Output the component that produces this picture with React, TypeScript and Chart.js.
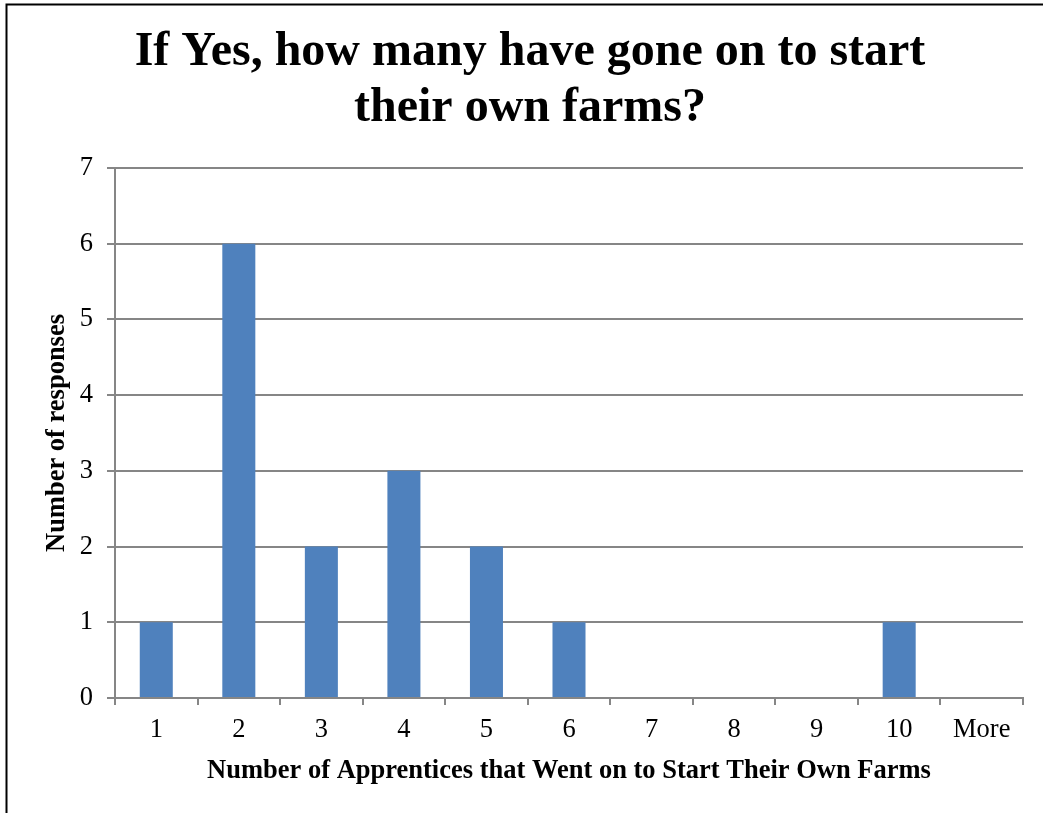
import React, { useEffect, useRef } from "react";
import { Chart, registerables } from "chart.js";

Chart.register(...registerables);

const categories = ["1", "2", "3", "4", "5", "6", "7", "8", "9", "10", "More"];
const responses = [1, 6, 2, 3, 2, 1, 0, 0, 0, 1, 0];
const titleLines = ["If Yes, how many have gone on to start", "their own farms?"];
const xTitle = "Number of Apprentices that Went on to Start Their Own Farms";
const yTitle = "Number of responses";

const W = 1043;
const H = 813;

const decorPlugin = {
  id: "decor",
  beforeDraw(chart: any) {
    const ctx = chart.ctx;
    ctx.save();
    ctx.fillStyle = "#ffffff";
    ctx.fillRect(0, 0, W, H);
    ctx.strokeStyle = "#000000";
    ctx.lineWidth = 2;
    ctx.beginPath();
    ctx.moveTo(6.5, H + 2);
    ctx.lineTo(6.5, 4.5);
    ctx.lineTo(W + 2, 4.5);
    ctx.stroke();
    ctx.restore();
  },
  afterDraw(chart: any) {
    const ctx = chart.ctx;
    const area = chart.chartArea;
    ctx.save();
    ctx.fillStyle = "#000000";
    ctx.textAlign = "center";
    ctx.textBaseline = "middle";
    ctx.font = "bold 48px 'Liberation Serif', 'Times New Roman', serif";
    ctx.fillText(titleLines[0], 530, 53);
    ctx.fillText(titleLines[1], 530, 109);
    ctx.font = "bold 26.5px 'Liberation Serif', 'Times New Roman', serif";
    ctx.fillText(xTitle, (area.left + area.right) / 2, 771);
    ctx.translate(57, (area.top + area.bottom) / 2);
    ctx.rotate(-Math.PI / 2);
    ctx.fillText(yTitle, 0, 0);
    ctx.restore();
  },
};

export default function App() {
  const ref = useRef<HTMLCanvasElement | null>(null);
  useEffect(() => {
    if (!ref.current) return;
    const tickFont = { family: "'Liberation Serif', 'Times New Roman', serif", size: 26.5 };
    const chart = new Chart(ref.current, {
      type: "bar",
      data: {
        labels: categories,
        datasets: [
          {
            data: responses,
            backgroundColor: "#4F81BD",
            borderWidth: 0,
            barPercentage: 0.4,
            categoryPercentage: 1,
          },
        ],
      },
      options: {
        animation: false,
        responsive: false,
        maintainAspectRatio: false,
        layout: { padding: { top: 168, right: 20, left: 0, bottom: 0 } },
        plugins: {
          legend: { display: false },
          title: { display: false },
          tooltip: { enabled: false },
        },
        scales: {
          x: {
            offset: true,
            grid: {
              offset: true,
              drawOnChartArea: false,
              drawTicks: true,
              tickLength: 7,
              color: "#868686",
              lineWidth: 2,
            },
            border: { display: true, color: "#868686", width: 2 },
            ticks: { color: "#000000", font: tickFont, padding: 9, maxRotation: 0, autoSkip: false },
            afterFit(scale: any) {
              scale.height = H - 698;
            },
          },
          y: {
            min: 0,
            max: 7,
            ticks: { stepSize: 1, color: "#000000", font: tickFont, padding: 14 },
            grid: { color: "#868686", lineWidth: 2, tickLength: 8 },
            border: { display: true, color: "#868686", width: 2 },
            afterFit(scale: any) {
              scale.width = 115;
            },
          },
        },
      },
      plugins: [decorPlugin],
    });
    return () => chart.destroy();
  }, []);
  return (
    <div style={{ position: "absolute", left: 0, top: 0, width: W, height: H }}>
      <canvas ref={ref} width={W} height={H} style={{ width: W, height: H, display: "block" }} />
    </div>
  );
}
